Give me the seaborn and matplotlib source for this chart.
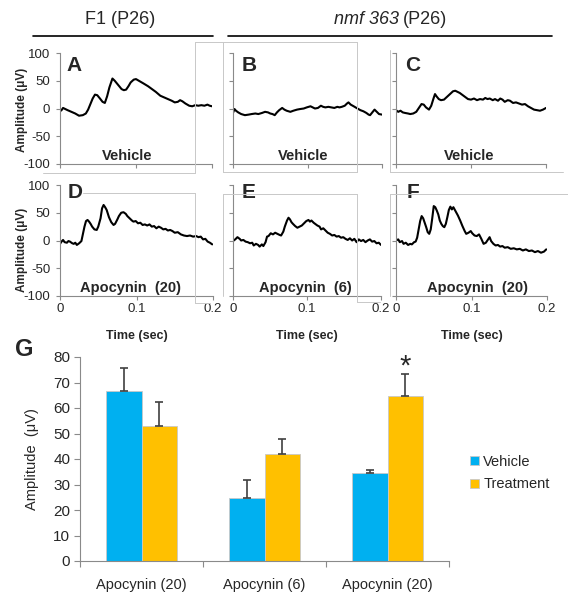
import numpy as np
import pandas as pd
import matplotlib
matplotlib.use("Agg")
import matplotlib.pyplot as plt
from matplotlib.lines import Line2D
import seaborn as sns

# Averaged ERG traces (time in sec, amplitude in uV)
t_a = [0.000, 0.002, 0.004, 0.007, 0.010, 0.015, 0.020, 0.025, 0.030, 0.034, 0.037, 0.040, 0.043, 0.046, 0.049,
       0.052, 0.056, 0.059, 0.062, 0.065, 0.069, 0.072, 0.075, 0.078, 0.081, 0.084, 0.087, 0.090, 0.093, 0.097,
       0.100, 0.105, 0.110, 0.116, 0.121, 0.126, 0.132, 0.137, 0.142, 0.147, 0.151, 0.155, 0.158, 0.161, 0.165,
       0.170, 0.174, 0.178, 0.182, 0.186, 0.190, 0.194, 0.197, 0.200]
amp_a = [-5, -3, 1, -1, -3, -6, -9, -13, -12, -9, -2, 8, 18, 25, 24,
         19, 12, 10, 22, 38, 54, 50, 45, 40, 35, 33, 34, 40, 47, 52,
         53, 49, 45, 40, 35, 30, 23, 20, 17, 14, 11, 12, 15, 13, 9,
         5, 4, 6, 5, 6, 5, 7, 5, 4]

t_b = [0.000, 0.002, 0.004, 0.007, 0.011, 0.016, 0.021, 0.025, 0.030, 0.034, 0.039, 0.043, 0.047, 0.050, 0.053,
       0.056, 0.059, 0.062, 0.066, 0.069, 0.072, 0.077, 0.081, 0.086, 0.090, 0.095, 0.099, 0.104, 0.107, 0.110,
       0.114, 0.118, 0.121, 0.124, 0.128, 0.132, 0.136, 0.140, 0.143, 0.146, 0.150, 0.153, 0.155, 0.158, 0.162,
       0.167, 0.171, 0.175, 0.179, 0.182, 0.184, 0.187, 0.190, 0.193, 0.196, 0.200]
amp_b = [-8, -1, -4, -7, -10, -12, -11, -10, -9, -10, -8, -6, -7, -9, -10,
         -12, -7, -3, 1, -2, -4, -6, -4, -2, -1, 0, 2, 4, 2, 0,
         1, 5, 3, 2, 3, 2, 1, 3, 2, 3, 5, 9, 11, 7, 4,
         0, -3, -5, -8, -11, -12, -7, -2, -6, -10, -11]

t_c = [0.000, 0.003, 0.006, 0.009, 0.012, 0.016, 0.019, 0.023, 0.027, 0.030, 0.034, 0.037, 0.040, 0.044, 0.047,
       0.050, 0.052, 0.054, 0.057, 0.060, 0.064, 0.068, 0.072, 0.076, 0.079, 0.082, 0.085, 0.089, 0.092, 0.096,
       0.100, 0.104, 0.108, 0.112, 0.116, 0.119, 0.122, 0.125, 0.129, 0.132, 0.136, 0.139, 0.142, 0.145, 0.149,
       0.152, 0.156, 0.160, 0.164, 0.168, 0.172, 0.176, 0.180, 0.184, 0.188, 0.192, 0.196, 0.200]
amp_c = [-3, -6, -4, -7, -8, -9, -10, -9, -6, 0, 8, 7, 2, -2, 5,
         18, 26, 22, 17, 15, 16, 21, 26, 31, 32, 30, 28, 24, 21, 17,
         16, 18, 15, 17, 16, 19, 17, 18, 15, 17, 14, 18, 16, 12, 15,
         14, 10, 11, 9, 7, 8, 4, 1, -2, -3, -4, -2, 1]

t_d = [0.000, 0.002, 0.004, 0.006, 0.009, 0.011, 0.013, 0.016, 0.018, 0.020, 0.022, 0.025, 0.028, 0.030, 0.032,
       0.034, 0.036, 0.038, 0.040, 0.042, 0.045, 0.048, 0.050, 0.053, 0.055, 0.057, 0.059, 0.061, 0.064, 0.067,
       0.070, 0.072, 0.075, 0.077, 0.080, 0.083, 0.086, 0.088, 0.091, 0.094, 0.096, 0.099, 0.102, 0.105, 0.108,
       0.111, 0.114, 0.117, 0.120, 0.123, 0.126, 0.129, 0.132, 0.135, 0.138, 0.141, 0.144, 0.147, 0.150, 0.154,
       0.158, 0.162, 0.166, 0.170, 0.174, 0.178, 0.181, 0.184, 0.187, 0.190, 0.193, 0.196, 0.199]
amp_d = [-6, -2, 1, -3, -4, -1, -2, -5, -6, -4, -8, -5, -1, 12, 25,
         35, 37, 34, 30, 25, 20, 19, 25, 40, 58, 64, 60, 55, 42, 33,
         28, 30, 38, 44, 50, 51, 48, 44, 40, 36, 34, 35, 31, 32, 28,
         29, 27, 29, 25, 26, 22, 25, 23, 20, 21, 18, 19, 17, 14, 15,
         11, 9, 8, 9, 7, 8, 6, 7, 2, 3, -2, -4, -7]

t_e = [0.000, 0.003, 0.006, 0.009, 0.011, 0.014, 0.017, 0.020, 0.023, 0.026, 0.028, 0.031, 0.034, 0.036, 0.039,
       0.041, 0.044, 0.046, 0.048, 0.051, 0.054, 0.057, 0.060, 0.063, 0.065, 0.068, 0.070, 0.073, 0.075, 0.077,
       0.079, 0.081, 0.084, 0.087, 0.090, 0.093, 0.096, 0.099, 0.102, 0.104, 0.106, 0.109, 0.111, 0.114, 0.117,
       0.119, 0.122, 0.125, 0.128, 0.131, 0.134, 0.137, 0.140, 0.143, 0.146, 0.149, 0.152, 0.155, 0.158, 0.161,
       0.164, 0.167, 0.170, 0.173, 0.176, 0.179, 0.182, 0.185, 0.188, 0.191, 0.194, 0.197, 0.200]
amp_e = [-1, 2, 6, 3, 0, 1, -2, -3, -5, -4, -9, -6, -8, -11, -7,
         -10, -3, 7, 8, 13, 11, 14, 12, 10, 9, 16, 25, 36, 41, 38,
         33, 30, 26, 23, 25, 27, 31, 35, 37, 34, 36, 32, 30, 27, 25,
         20, 22, 18, 14, 12, 9, 10, 7, 8, 5, 6, 3, 1, 4, 0,
         3, -3, 2, -1, 1, -3, 0, 2, -2, -1, -5, -4, -8]

t_f = [0.000, 0.003, 0.005, 0.008, 0.010, 0.013, 0.016, 0.019, 0.021, 0.024, 0.026, 0.028, 0.030, 0.032, 0.034,
       0.036, 0.038, 0.040, 0.042, 0.044, 0.046, 0.048, 0.050, 0.052, 0.054, 0.056, 0.058, 0.060, 0.062, 0.064,
       0.066, 0.068, 0.070, 0.072, 0.074, 0.076, 0.078, 0.080, 0.082, 0.085, 0.088, 0.091, 0.093, 0.096, 0.099,
       0.101, 0.104, 0.107, 0.110, 0.113, 0.116, 0.119, 0.122, 0.124, 0.126, 0.129, 0.132, 0.135, 0.138, 0.141,
       0.144, 0.148, 0.152, 0.156, 0.160, 0.164, 0.168, 0.172, 0.176, 0.180, 0.184, 0.188, 0.192, 0.196, 0.199]
amp_f = [0, 2, -3, -1, -6, -4, -8, -6, -7, -3, -2, 5, 20, 35, 44,
         40, 32, 24, 15, 12, 20, 40, 62, 60, 54, 47, 36, 30, 26, 24,
         30, 42, 55, 61, 56, 60, 55, 50, 45, 36, 26, 17, 12, 14, 17,
         13, 9, 8, 11, 3, -6, -4, 2, 6, -1, -6, -9, -8, -11, -10,
         -13, -12, -15, -14, -16, -15, -18, -16, -19, -18, -21, -19, -22, -20, -16]

# Panel G: mean amplitude with upper error bars
panels = ["D", "E", "F"]
conditions = ["Apocynin (20)", "Apocynin (6)", "Apocynin (20)"]
vehicle = [66.6, 24.6, 34.4]
vehicle_err = [9.0, 7.2, 1.2]
treatment = [52.9, 42.0, 64.8]
treatment_err = [9.4, 5.7, 8.5]

sns.set_style("white")
plt.rcParams["font.family"] = ["Liberation Sans", "DejaVu Sans"]

W, H = 568, 592
fig = plt.figure(figsize=(W / 100, H / 100), dpi=100)
grey = "#8a8a8a"


def px_rect(left, top, right, bottom):
    return [left / W, 1 - bottom / H, (right - left) / W, (bottom - top) / H]


def grey_line(x0, y0, x1, y1):
    fig.add_artist(Line2D([x0 / W, x1 / W], [1 - y0 / H, 1 - y1 / H], color="#c8c8c8", lw=0.7))


# Excel chart frames peeking out behind the panels
grey_line(43, 173, 195, 173)
grey_line(195, 42, 195, 173)
grey_line(195, 42, 223, 42)
grey_line(223, 42, 357, 42)
grey_line(223, 42, 223, 172)
grey_line(223, 172, 357, 172)
grey_line(357, 42, 357, 172)
grey_line(390, 50, 390, 172)
grey_line(390, 172, 563, 172)
grey_line(83, 193, 195, 193)
grey_line(195, 193, 195, 303)
grey_line(195, 303, 210, 303)
grey_line(223, 194, 357, 194)
grey_line(223, 194, 223, 296)
grey_line(357, 194, 357, 302)
grey_line(357, 302, 380, 302)
grey_line(390, 194, 568, 194)
grey_line(390, 194, 390, 296)


def trace_panel(rect, t, amp, letter, letter_x, letter_y, label, label_x, show_y, show_x):
    ax = fig.add_axes(rect)
    ax.set_facecolor("none")
    sns.lineplot(x=t, y=amp, ax=ax, color="black", linewidth=1.5)
    ax.set_xlim(0, 0.2)
    ax.set_ylim(-100, 100)
    ax.set_xticks([0, 0.1, 0.2])
    ax.set_yticks([-100, -50, 0, 50, 100])
    ax.set_xticklabels(["0", "0.1", "0.2"] if show_x else [])
    ax.set_yticklabels(["-100", "-50", "0", "50", "100"] if show_y else [])
    for s in ["top", "right"]:
        ax.spines[s].set_visible(False)
    for s in ["left", "bottom"]:
        ax.spines[s].set_color(grey)
        ax.spines[s].set_linewidth(0.8)
    ax.tick_params(axis="both", which="major", bottom=True, left=True, direction="out",
                   length=3, width=0.8, color=grey, labelsize=9.5, pad=2)
    ax.tick_params(axis="y", pad=4)
    ax.set_xlabel("Time (sec)" if show_x else "", fontsize=9, fontweight="bold", labelpad=11)
    ax.set_ylabel("")
    ax.text(letter_x, letter_y, letter, transform=ax.transAxes, fontsize=15,
            fontweight="bold", ha="left", va="baseline")
    ax.text(label_x, 0.04, label, transform=ax.transAxes, fontsize=10.5,
            fontweight="bold", ha="center", va="baseline")
    return ax


trace_panel(px_rect(60, 53, 212, 164), t_a, amp_a, "A", 0.04, 0.84, "Vehicle", 0.44, True, False)
trace_panel(px_rect(233, 53, 382, 164), t_b, amp_b, "B", 0.06, 0.84, "Vehicle", 0.47, False, False)
trace_panel(px_rect(396, 53, 546, 164), t_c, amp_c, "C", 0.06, 0.84, "Vehicle", 0.49, False, False)
trace_panel(px_rect(60, 185, 213, 296), t_d, amp_d, "D", 0.05, 0.885, "Apocynin  (20)", 0.46, True, True)
trace_panel(px_rect(233, 185, 381, 296), t_e, amp_e, "E", 0.06, 0.885, "Apocynin  (6)", 0.49, False, True)
trace_panel(px_rect(396, 185, 547, 296), t_f, amp_f, "F", 0.07, 0.885, "Apocynin  (20)", 0.54, False, True)

for yc in [110, 250]:
    fig.text(22 / W, 1 - yc / H, "Amplitude (μV)", rotation=90, fontsize=8.5,
             fontweight="bold", ha="center", va="center")

# column headers
fig.text(120 / W, 1 - 20 / H, "F1 (P26)", fontsize=13, ha="center", va="center")
fig.text(399 / W, 1 - 20 / H, "nmf 363", fontsize=13, style="italic", ha="right", va="center")
fig.text(403 / W, 1 - 20 / H, "(P26)", fontsize=13, ha="left", va="center")
fig.add_artist(Line2D([33 / W, 213 / W], [1 - 36 / H] * 2, color="black", lw=1.2))
fig.add_artist(Line2D([228 / W, 552 / W], [1 - 36 / H] * 2, color="black", lw=1.2))

# bar chart G
df = pd.DataFrame({
    "panel": panels * 2,
    "group": ["Vehicle"] * 3 + ["Treatment"] * 3,
    "amplitude": vehicle + treatment,
})
axg = fig.add_axes(px_rect(80, 357, 449, 561))
sns.barplot(data=df, x="panel", y="amplitude", hue="group", order=panels,
            hue_order=["Vehicle", "Treatment"],
            palette={"Vehicle": "#00B0F0", "Treatment": "#FFC000"}, saturation=1,
            width=0.57, errorbar=None, edgecolor="#c8c8c8", linewidth=0.6, ax=axg)

for cont, errs in zip(axg.containers, [vehicle_err, treatment_err]):
    for bar, e in zip(cont, errs):
        xc = bar.get_x() + bar.get_width() / 2
        axg.errorbar(xc, bar.get_height(), yerr=[[0], [e]], color="#404040",
                     capsize=3, elinewidth=1.2, capthick=1.2)

star_bar = axg.containers[1][2]
axg.text(star_bar.get_x() + star_bar.get_width() / 2, treatment[2] + treatment_err[2], "*",
         fontsize=21, ha="center", va="baseline")

axg.set_xlim(-0.5, 2.5)
axg.set_ylim(0, 80)
axg.set_yticks(range(0, 81, 10))
axg.set_xticks(range(3))
axg.set_xticklabels(conditions, fontsize=10.5)
axg.set_xticks([-0.5, 0.5, 1.5, 2.5], minor=True)
axg.tick_params(axis="x", which="major", length=0, pad=12)
axg.tick_params(axis="x", which="minor", bottom=True, length=4, width=0.8, color=grey)
axg.tick_params(axis="y", left=True, length=4, width=0.8, color=grey, labelsize=11, pad=3)
axg.set_xlabel("")
axg.set_ylabel("Amplitude  (μV)", fontsize=10.5, labelpad=10)
for s in ["top", "right"]:
    axg.spines[s].set_visible(False)
for s in ["left", "bottom"]:
    axg.spines[s].set_color(grey)
    axg.spines[s].set_linewidth(0.8)

handles, labels = axg.get_legend_handles_labels()
axg.legend(handles, labels, loc="center left", bbox_to_anchor=(457 / W, 1 - 473 / H),
           bbox_transform=fig.transFigure, frameon=False, fontsize=10.5,
           handlelength=0.6, handleheight=0.6, handletextpad=0.3, labelspacing=0.6)

fig.text(24 / W, 1 - 349 / H, "G", fontsize=17, fontweight="bold", ha="center", va="center")

fig.savefig("out.png", dpi=100)
